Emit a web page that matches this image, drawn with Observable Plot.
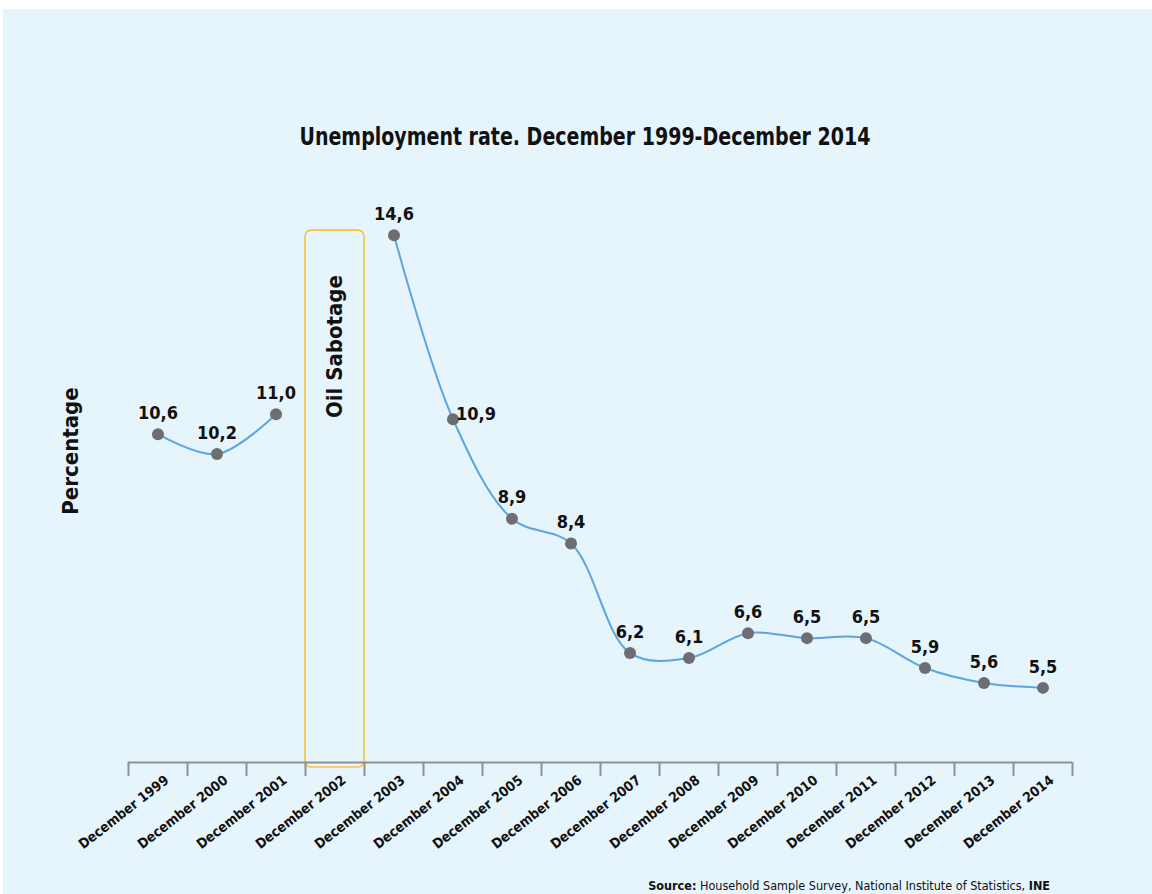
<!DOCTYPE html>
<html><head><meta charset="utf-8">
<script src="https://cdn.jsdelivr.net/npm/d3@7"></script>
<script src="https://cdn.jsdelivr.net/npm/@observablehq/plot@0.6"></script>
<style>
body{margin:0;background:#fff;}
#page{position:absolute;left:3px;top:9px;width:1149px;height:885px;background:#E6F4FC;overflow:hidden;
  font-family:"Liberation Sans Narrow","DejaVu Sans Condensed",sans-serif;color:#111;}
#title{position:absolute;top:116px;left:0;width:1164px;text-align:center;font-weight:bold;font-size:24px;line-height:24px;transform:scaleX(0.88);transform-origin:582px 0;}
#chart{position:absolute;left:0;top:156px;}
#source{position:absolute;right:102px;top:870px;font-size:12.5px;line-height:14px;}
</style>
</head><body>
<div id="page">
  <div id="title">Unemployment rate. December 1999-December 2014</div>
  <div id="chart"></div>
  <div id="source"><b>Source:</b> Household Sample Survey, National Institute of Statistics, <b>INE</b></div>
</div>
<script>
const categories = ["December 1999","December 2000","December 2001","December 2002","December 2003","December 2004","December 2005","December 2006","December 2007","December 2008","December 2009","December 2010","December 2011","December 2012","December 2013","December 2014"];
const rates = [10.6,10.2,11.0,null,14.6,10.9,8.9,8.4,6.2,6.1,6.6,6.5,6.5,5.9,5.6,5.5];
const yDomain = [4, 16];
const labelRight = ["December 2004"];
const eventCategory = ["December 2002"];
const eventLabel = ["Oil Sabotage"];
const eventSpan = [3.9, 14.69];
const yLabel = ["Percentage"];

const data = categories.map((c, i) => ({cat: c, value: rates[i]}));
const pts = data.filter(d => d.value != null);
const fmt = v => d3.format(".1f")(v).replace(".", ",");

const W = 1149, H = 697, ML = 125, MR = 80, MT = 0, MB = 100;
const step = (W - ML - MR) / categories.length;
const font = '"Liberation Sans Narrow","DejaVu Sans Condensed",sans-serif';

const chart = Plot.plot({
  width: W, height: H,
  marginLeft: ML, marginRight: MR, marginTop: MT, marginBottom: MB,
  style: {fontFamily: font, background: "transparent", color: "#111", overflow: "visible"},
  x: {type: "band", domain: categories, padding: 0, label: null},
  y: {domain: yDomain, axis: null},
  marks: [
    Plot.barY(eventCategory, {x: d => d, y1: eventSpan[0], y2: eventSpan[1], fill: "none", stroke: "#F6C143", strokeWidth: 1.6, rx: 6}),
    Plot.text(eventLabel, {x: eventCategory, y: 12.36, text: d => d, rotate: -90, fontSize: 22, fontWeight: "bold", fill: "#111"}),
    Plot.ruleY([yDomain[0]], {stroke: "#8E9093", strokeWidth: 2}),
    Plot.ruleX(categories, {x: d => d, y1: yDomain[0], y2: yDomain[0], dx: -step/2, insetBottom: -14, stroke: "#8E9093", strokeWidth: 2}),
    Plot.ruleX(categories.slice(-1), {x: d => d, y1: yDomain[0], y2: yDomain[0], dx: step/2, insetBottom: -14, stroke: "#8E9093", strokeWidth: 2}),
    Plot.axisX({tickSize: 0, tickRotate: -38, tickPadding: 6, dx: 9, dy: 10, fontSize: 13.8, fontWeight: "bold", fill: "#111", label: null}),
    Plot.line(data, {x: "cat", y: "value", curve: "catmull-rom", stroke: "#5DA5DE", strokeWidth: 2}),
    Plot.dot(pts, {x: "cat", y: "value", r: 6, fill: "#6D6E71", stroke: "none"}),
    Plot.text(pts.filter(d => !labelRight.includes(d.cat)), {x: "cat", y: "value", text: d => fmt(d.value), dy: -21, fontSize: 18, fontWeight: "bold", fill: "#111", letterSpacing: 1}),
    Plot.text(pts.filter(d => labelRight.includes(d.cat)), {x: "cat", y: "value", text: d => fmt(d.value), dx: 3, dy: -5, textAnchor: "start", fontSize: 18, fontWeight: "bold", fill: "#111"}),
    Plot.text(yLabel, {frameAnchor: "left", dx: -58, dy: -13, rotate: -90, textAnchor: "middle", text: d => d, fontSize: 22, fontWeight: "bold", fill: "#111"})
  ]
});
document.getElementById("chart").appendChild(chart);
</script>
</body></html>
